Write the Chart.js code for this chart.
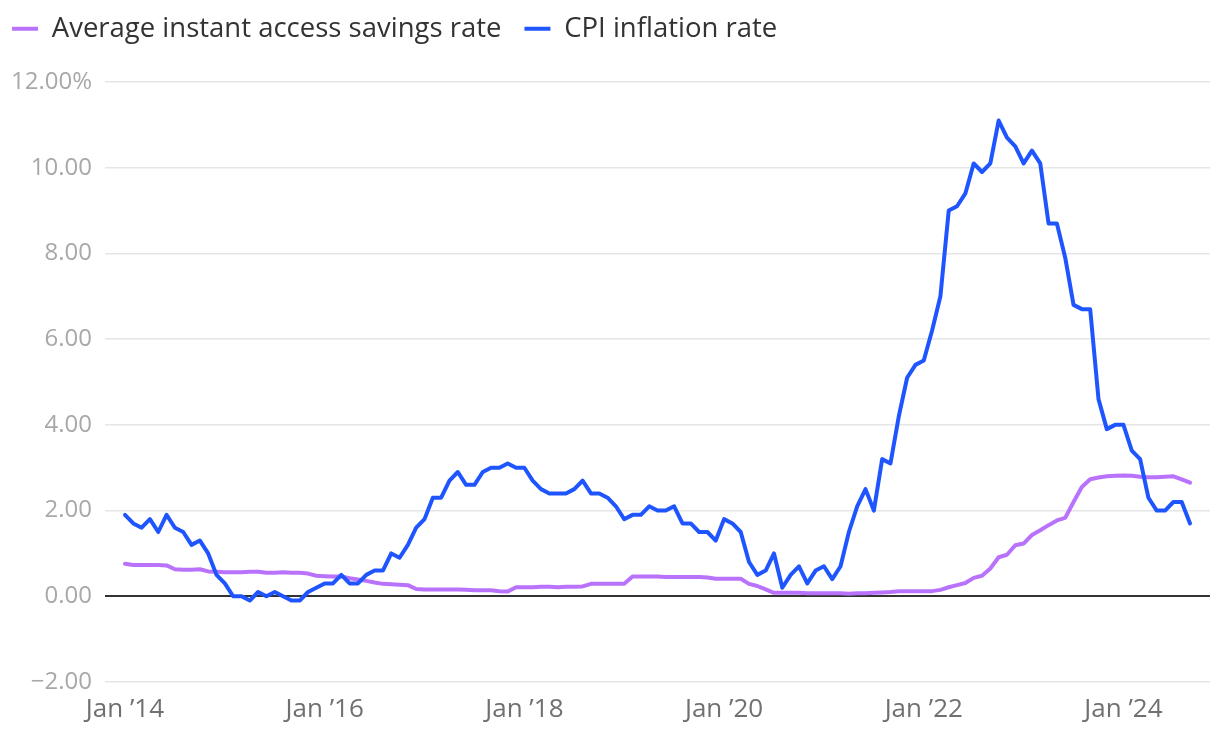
<!DOCTYPE html>
<html>
<head>
<meta charset="utf-8">
<script src="https://cdn.jsdelivr.net/npm/chart.js@4.4.1/dist/chart.umd.min.js"></script>
<style>
  html, body { margin: 0; padding: 0; background: #fff; }
  #wrap { width: 1220px; height: 734px; }
</style>
</head>
<body>
<div id="wrap"><canvas id="chart"></canvas></div>
<script>
// monthly values, Jan 2014 .. Sep 2024
const savingsRate = [
  0.76, 0.73, 0.73, 0.73, 0.73, 0.72, 0.63, 0.62, 0.62, 0.63, 0.58, 0.57,
  0.56, 0.56, 0.56, 0.57, 0.57, 0.55, 0.55, 0.56, 0.55, 0.55, 0.53, 0.48,
  0.47, 0.46, 0.46, 0.42, 0.39, 0.36, 0.32, 0.29, 0.28, 0.27, 0.26, 0.17,
  0.16, 0.16, 0.16, 0.16, 0.16, 0.15, 0.14, 0.14, 0.14, 0.12, 0.11, 0.21,
  0.21, 0.21, 0.22, 0.22, 0.21, 0.22, 0.22, 0.23, 0.29, 0.29, 0.29, 0.29,
  0.29, 0.46, 0.46, 0.46, 0.46, 0.45, 0.45, 0.45, 0.45, 0.45, 0.44, 0.41,
  0.41, 0.41, 0.41, 0.29, 0.24, 0.16, 0.08, 0.08, 0.08, 0.08, 0.07, 0.07,
  0.07, 0.07, 0.07, 0.06, 0.07, 0.07, 0.08, 0.09, 0.10, 0.12, 0.12, 0.12,
  0.12, 0.12, 0.15, 0.21, 0.26, 0.31, 0.43, 0.48, 0.65, 0.91, 0.97, 1.19,
  1.23, 1.43, 1.54, 1.66, 1.77, 1.83, 2.20, 2.55, 2.73, 2.77, 2.80, 2.81,
  2.82, 2.81, 2.79, 2.78, 2.78, 2.79, 2.80, 2.73, 2.65
];

const cpiRate = [
  1.9, 1.7, 1.6, 1.8, 1.5, 1.9, 1.6, 1.5, 1.2, 1.3, 1.0, 0.5,
  0.3, 0.0, 0.0, -0.1, 0.1, 0.0, 0.1, 0.0, -0.1, -0.1, 0.1, 0.2,
  0.3, 0.3, 0.5, 0.3, 0.3, 0.5, 0.6, 0.6, 1.0, 0.9, 1.2, 1.6,
  1.8, 2.3, 2.3, 2.7, 2.9, 2.6, 2.6, 2.9, 3.0, 3.0, 3.1, 3.0,
  3.0, 2.7, 2.5, 2.4, 2.4, 2.4, 2.5, 2.7, 2.4, 2.4, 2.3, 2.1,
  1.8, 1.9, 1.9, 2.1, 2.0, 2.0, 2.1, 1.7, 1.7, 1.5, 1.5, 1.3,
  1.8, 1.7, 1.5, 0.8, 0.5, 0.6, 1.0, 0.2, 0.5, 0.7, 0.3, 0.6,
  0.7, 0.4, 0.7, 1.5, 2.1, 2.5, 2.0, 3.2, 3.1, 4.2, 5.1, 5.4,
  5.5, 6.2, 7.0, 9.0, 9.1, 9.4, 10.1, 9.9, 10.1, 11.1, 10.7, 10.5,
  10.1, 10.4, 10.1, 8.7, 8.7, 7.9, 6.8, 6.7, 6.7, 4.6, 3.9, 4.0,
  4.0, 3.4, 3.2, 2.3, 2.0, 2.0, 2.2, 2.2, 1.7
];

const xTickMonths = [0, 24, 48, 72, 96, 120];
const xTickLabels = ['Jan \u201914', 'Jan \u201916', 'Jan \u201918', 'Jan \u201920', 'Jan \u201922', 'Jan \u201924'];

const monthIndex = savingsRate.map((_, i) => i);

const fontFamily = '"Open Sans", Roboto, sans-serif';

// fixed legend block so the plot starts lower, and nudge it up/left
const legendBlock = {
  id: 'legendBlock',
  beforeInit(chart) {
    const fit = chart.legend.fit;
    chart.legend.fit = function () {
      fit.call(this);
      this.height = 82;
    };
  },
  afterLayout(chart) {
    chart.legend.left = -11;
    chart.legend.top = -8;
  }
};

const ctx = document.getElementById('chart').getContext('2d');

new Chart(ctx, {
  type: 'line',
  data: {
    labels: monthIndex,
    datasets: [
      {
        label: 'Average instant access savings rate',
        data: savingsRate,
        borderColor: '#b872fc',
        backgroundColor: '#b872fc',
        borderWidth: 4,
        borderCapStyle: 'round',
        borderJoinStyle: 'round',
        pointRadius: 0,
        tension: 0,
        order: 1
      },
      {
        label: 'CPI inflation rate',
        data: cpiRate,
        borderColor: '#1f55ff',
        backgroundColor: '#1f55ff',
        borderWidth: 4,
        borderCapStyle: 'round',
        borderJoinStyle: 'round',
        pointRadius: 0,
        tension: 0,
        order: 0
      }
    ]
  },
  options: {
    responsive: true,
    maintainAspectRatio: false,
    animation: false,
    layout: {
      padding: { left: 0, right: 10, top: 0, bottom: 0 }
    },
    scales: {
      x: {
        type: 'linear',
        min: -2.4,
        max: 130.4,
        afterBuildTicks: (scale) => {
          scale.ticks = xTickMonths.map(v => ({ value: v }));
        },
        afterFit: (scale) => {
          scale.height = 52;
        },
        grid: { display: false, drawTicks: false },
        border: { display: false },
        ticks: {
          color: '#707070',
          padding: 12,
          maxRotation: 0,
          autoSkip: false,
          font: { family: fontFamily, size: 26 },
          callback: (value) => xTickLabels[xTickMonths.indexOf(value)]
        }
      },
      y: {
        min: -2,
        max: 12,
        afterFit: (scale) => {
          scale.width = 105;
        },
        border: { display: false },
        grid: {
          drawTicks: false,
          color: (c) => c.tick.value === 0 ? '#333' : '#e5e5e5',
          lineWidth: (c) => c.tick.value === 0 ? 2 : 1.5
        },
        ticks: {
          stepSize: 2,
          color: '#a8a8a8',
          padding: 13,
          font: { family: fontFamily, size: 24 },
          callback: (value) => {
            if (value === 12) return '12.00%';
            if (value < 0) return '\u2212' + Math.abs(value).toFixed(2);
            return value.toFixed(2);
          }
        }
      }
    },
    plugins: {
      legend: {
        position: 'top',
        align: 'start',
        labels: {
          usePointStyle: true,
          pointStyleWidth: 26,
          pointStyle: 'line',
          padding: 23,
          color: '#333',
          font: { family: fontFamily, size: 27.5 },
          sort: (a, b) => a.datasetIndex - b.datasetIndex
        }
      },
      tooltip: { enabled: false }
    }
  },
  plugins: [legendBlock]
});
</script>
</body>
</html>
